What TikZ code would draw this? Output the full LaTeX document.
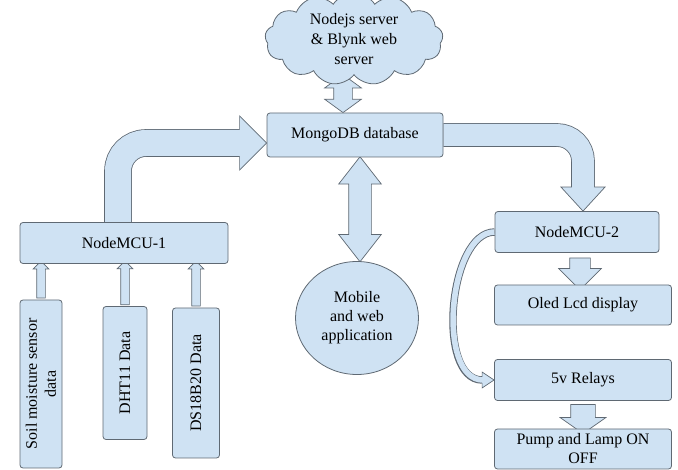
\documentclass[tikz,border=0pt]{standalone}
\usepackage{fontspec}
\setmainfont{Liberation Serif}
\usetikzlibrary{shapes.symbols,shapes.geometric,shapes.arrows,calc,backgrounds}

\definecolor{boxblue}{RGB}{207,226,243}
\definecolor{linegray}{RGB}{95,105,115}

\begin{document}
\begin{tikzpicture}[x=1pt,y=-1pt,
  box/.style={draw=linegray, fill=boxblue, line width=0.8pt, rounded corners=3pt, inner sep=0pt, align=center, font=\fontsize{16}{19}\selectfont},
  blk/.style={draw=linegray, fill=boxblue, line width=0.7pt, inner sep=0pt},
  sarrow/.style={blk, single arrow, single arrow head extend=#1},
  darrow/.style={blk, double arrow, double arrow head extend=#1}]

\useasboundingbox (0,0) rectangle (678,470);

\node[box, cloud, sharp corners, cloud puffs=13, cloud puff arc=115, aspect=2.3, minimum width=178pt, minimum height=76pt, font=\fontsize{16}{20}\selectfont] (cloud) at (354,39) {Nodejs server\\\& Blynk web\\server};
\node[box, minimum width=176pt, minimum height=44pt] (mongo) at (355,135) {MongoDB database};
\node[box, minimum width=208pt, minimum height=41pt] (nm1) at (124,243) {NodeMCU-1};
\node[box, rotate=90, minimum width=168pt, minimum height=42pt] (soil) at (41,384) {Soil moisture sensor\\data};
\node[box, rotate=90, minimum width=133pt, minimum height=44pt] (dht) at (125,373) {DHT11 Data};
\node[box, rotate=90, minimum width=150pt, minimum height=47pt] (ds) at (196,383) {DS18B20 Data};
\node[box, ellipse, minimum width=123pt, minimum height=113pt] (app) at (357,318) {Mobile\\and web\\application};
\node[box, minimum width=164pt, minimum height=41pt] (nm2) at (577,232) {NodeMCU-2};
\node[box, minimum width=177pt, minimum height=40pt] (oled) at (583,305) {Oled Lcd display};
\node[box, minimum width=177pt, minimum height=41pt] (relay) at (583,380) {5v Relays};
\node[box, minimum width=177pt, minimum height=40pt] (pump) at (583,449) {Pump and Lamp ON\\OFF};

\begin{scope}[on background layer]
\node[darrow=9pt, rotate=90, inner ysep=9pt, minimum height=38pt, double arrow tip angle=108] (a1) at ($(mongo.north)+(-12,-19)$) {};
\node[darrow=10pt, rotate=90, inner ysep=11pt, minimum height=105pt, double arrow tip angle=76] (a2) at ($(mongo.south)!.5!(app.north)+(4,0)$) {};
\node[sarrow=3.5pt, rotate=90, inner ysep=4pt, minimum height=37pt] (s1) at ($(soil.east)!.5!(soil.east |- nm1.south)$) {};
\node[sarrow=3.5pt, rotate=90, inner ysep=4pt, minimum height=44pt] (s2) at ($(dht.east)!.5!(dht.east |- nm1.south)$) {};
\node[sarrow=3.5pt, rotate=90, inner ysep=4pt, minimum height=45pt] (s3) at ($(ds.east)!.5!(ds.east |- nm1.south)$) {};
\node[sarrow=11pt, rotate=-90, inner ysep=10pt, minimum height=32pt] (a3) at ($(nm2.south)!.5!(oled.north)$) {};
\node[sarrow=10.5pt, rotate=-90, inner ysep=12pt, minimum height=29pt, single arrow tip angle=110] (a4) at ($(relay.south)!.5!(pump.north)$) {};

\draw[linegray, line width=27.6pt, rounded corners=28pt] ($(nm1.north)+(-6,0)$) |- ($(mongo.west)+(-27,8)$);
\filldraw[blk] ($(mongo.west)+(-27,-19)$) -- ($(mongo.west)+(0,8)$) -- ($(mongo.west)+(-27,35)$) -- cycle;
\draw[boxblue, line width=26pt, rounded corners=28pt, shorten >=-1.5pt] ($(nm1.north)+(-6,0)$) |- ($(mongo.west)+(-27,8)$);

\draw[linegray, line width=23.6pt, rounded corners=26pt] (mongo.east) -| ($(nm2.north)+(6,-24)$);
\filldraw[blk] ($(nm2.north)+(-16,-24)$) -- ($(nm2.north)+(6,0)$) -- ($(nm2.north)+(28,-24)$) -- cycle;
\draw[boxblue, line width=22pt, rounded corners=26pt, shorten >=-1.5pt] (mongo.east) -| ($(nm2.north)+(6,-24)$);

\draw[linegray, line width=7.4pt] (nm2.west) to[out=180,in=180,looseness=0.8] ($(relay.west)+(-12,0)$);
\filldraw[blk] ($(relay.west)+(-12,-8)$) -- (relay.west) -- ($(relay.west)+(-12,8)$) -- cycle;
\draw[boxblue, line width=5.6pt, shorten >=-1pt] (nm2.west) to[out=180,in=180,looseness=0.8] ($(relay.west)+(-12,0)$);
\end{scope}
\end{tikzpicture}
\end{document}
